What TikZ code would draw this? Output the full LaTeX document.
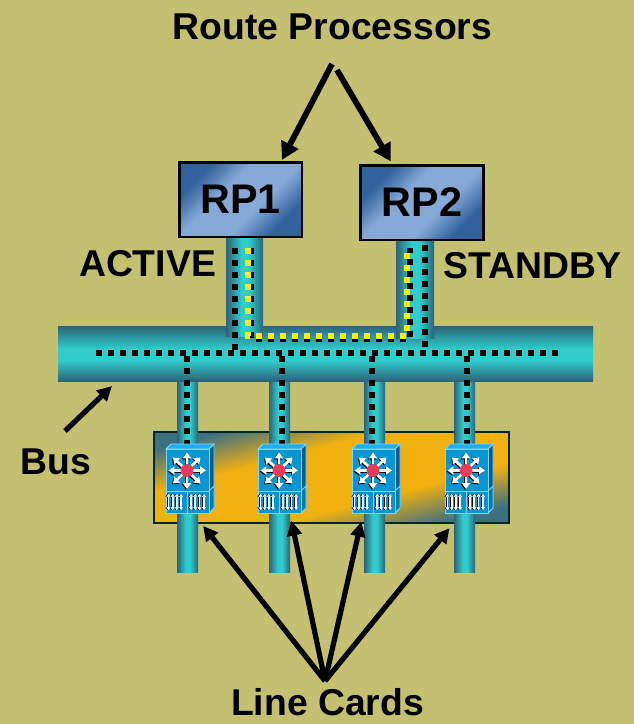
\documentclass[tikz,border=0pt]{standalone}
\usepackage{fontspec}
\setmainfont{Liberation Sans}
\usetikzlibrary{calc, arrows.meta}
\definecolor{slidebg}{RGB}{196,192,114}
\definecolor{pipedark}{RGB}{44,100,118}
\definecolor{pipelight}{RGB}{48,204,204}
\definecolor{rpdark}{RGB}{50,98,156}
\definecolor{rplight}{RGB}{134,170,216}
\definecolor{carddark}{RGB}{62,112,128}
\definecolor{cardorange}{RGB}{240,176,16}
\definecolor{iconblue}{RGB}{8,150,210}
\definecolor{icontop}{RGB}{30,175,240}
\definecolor{iconside}{RGB}{8,90,140}
\definecolor{iconedge}{RGB}{125,215,250}
\definecolor{iconred}{RGB}{232,60,90}
\pgfdeclarehorizontalshading{pipeshade}{100bp}{color(0bp)=(pipedark); color(25bp)=(pipedark); color(46bp)=(pipelight); color(56bp)=(pipelight); color(75bp)=(pipedark); color(100bp)=(pipedark)}
\pgfdeclareverticalshading{busshade}{100bp}{color(0bp)=(pipedark); color(25bp)=(pipedark); color(44bp)=(pipelight); color(54bp)=(pipelight); color(75bp)=(pipedark); color(100bp)=(pipedark)}
\pgfdeclareverticalshading{rpshade}{100bp}{color(0bp)=(rpdark); color(27bp)=(rpdark); color(41bp)=(rplight); color(59bp)=(rplight); color(73bp)=(rpdark); color(100bp)=(rpdark)}
\pgfdeclareverticalshading{trayshade}{100bp}{color(0bp)=(carddark); color(25bp)=(carddark); color(39bp)=(cardorange); color(61bp)=(cardorange); color(75bp)=(carddark); color(100bp)=(carddark)}
\newcommand{\starlines}[1]{%
    \draw[staredge,#1] (2.5,21.5)--(40,21.5);
    \draw[staredge,#1] (21,3.5)--(21,40);
    \draw[staredge,#1] (7,8.5)--(34.5,34.5);
    \draw[staredge,#1] (7,34.5)--(34.5,8.5);
}
\newcommand{\portlines}[1]{%
    \draw[portedge,#1] (2.5,45)--(2.5,61);
    \draw[portedge,#1] (6.7,45)--(6.7,61);
    \draw[portedge,#1] (10.8,45)--(10.8,61);
    \draw[portedge,#1] (15,45)--(15,61);
    \draw[portedge,#1] (25,45)--(25,61);
    \draw[portedge,#1] (29.2,45)--(29.2,61);
    \draw[portedge,#1] (33.5,45)--(33.5,61);
    \draw[portedge,#1] (38,45)--(38,61);
}
\tikzset{
    label/.style={font=\fontsize{28}{30}\selectfont\bfseries,inner sep=0pt},
    rpbox/.style={draw=black,line width=2pt,minimum width=92pt,minimum height=56pt,inner sep=0pt,
        font=\fontsize{31}{33}\selectfont\bfseries,shading=rpshade,shading angle=45},
    pipe/.style={shading=pipeshade},
    busbar/.style={shading=busshade},
    tray/.style={draw=black!70!teal,line width=2.2pt,shading=trayshade,shading angle=15},
    dots/.style={line width=4.5pt,dash pattern=on 4.5pt off 4.5pt},
    bigcallout/.style={line width=4.4pt,-{Triangle[length=13pt,width=14pt]}},
    callout/.style={line width=3.9pt,-{Triangle[length=11pt,width=11pt]}},
    staredge/.style={line width=2pt,{Triangle[length=4.4pt,width=6pt]}-{Triangle[length=4.4pt,width=6pt]}},
    portedge/.style={line width=1.2pt,{Triangle[length=2pt,width=3pt]}-{Triangle[length=2pt,width=3pt]}},
    pics/linecard/.style={code={
        \fill[iconside,draw=iconedge,line width=0.7pt] (43,0)--(48,-5)--(48,59)--(43,64)--cycle;
        \fill[iconblue!80!black,draw=iconedge,line width=0.7pt] (43,42)--(48,37)--(48,59)--(43,64)--cycle;
        \fill[icontop,draw=iconedge,line width=0.7pt] (0,0)--(5,-5)--(48,-5)--(43,0)--cycle;
        \node[fill=iconblue,draw=iconedge,line width=0.7pt,anchor=north west,minimum width=32.25pt,minimum height=48pt,inner sep=0pt] (-front) at (0,0) {};
        \draw[iconedge,line width=0.7pt] (0,42)--(43,42) (21,42)--(21,64);
        \begin{scope}[shift={(-1,1)}]
            \starlines{black}
        \end{scope}
        \starlines{white}
        \fill[iconred] (21,21.5) circle (6.5);
        \begin{scope}[shift={(-1,0)}]
            \portlines{black}
        \end{scope}
        \portlines{white}
    }},
}
\begin{document}
\begin{tikzpicture}[x=0.75pt,y=-0.75pt]
    \useasboundingbox (0,0) rectangle (634,724);
    \fill[slidebg] (0,0) rectangle (634,724);

    % line card tray and its four pipes
    \draw[tray] (154,432) rectangle (509,523);
    \fill[pipe] (177,378) rectangle (198,572);
    \fill[pipe] (269,378) rectangle (290,572);
    \fill[pipe] (364,378) rectangle (385,572);
    \fill[pipe] (454,378) rectangle (475,572);

    % bus and the two pipes up to the processors
    \fill[busbar] (58,326) rectangle (593,381);
    \fill[pipe] (226,238) rectangle (263,336);
    \fill[pipe] (396,240) rectangle (434,338);

    \node[rpbox] (rp1) at (240.5,199.5) {RP1};
    \node[rpbox] (rp2) at (422,202.5) {RP2};

    \draw[dots] (96,353)--(558,353);
    \draw[dots] (235,248)--(235,350);
    \draw[dots] (425,245)--(425,347);
    \draw[dots] (186.7,356)--(186.7,446);
    \draw[dots] (281.7,356)--(281.7,446);
    \draw[dots] (372,356)--(372,446);
    \draw[dots] (466.7,356)--(466.7,446);
    \draw[dots] (251,248)--(251,339)--(410,339)--(410,248);
    \draw[dots,yellow] (248,248)--(248,336)--(406.5,336)--(406.5,248);

    \pic (lc1) at (166,449) {linecard};
    \pic (lc2) at (258,449) {linecard};
    \pic (lc3) at (352,449) {linecard};
    \pic (lc4) at (445,449) {linecard};

    \node[label] (routes) at (332.5,27) {Route Processors};
    \node[label] (active) at (147.5,264) {ACTIVE};
    \node[label] (standby) at (532.5,266) {STANDBY};
    \node[label] (bus) at (55.5,462) {Bus};
    \node[label] (cards) at (327.5,702) {Line Cards};

    \coordinate (rpleft) at (332,64);
    \coordinate (rpright) at (337,70);
    \coordinate (cardfork) at (325,681);
    \coordinate (busfrom) at (65,431);
    \coordinate (busto) at (112,386);

    \draw[bigcallout] (rpleft)--($(rp1.north)+(41.5,-1)$);
    \draw[bigcallout] (rpright)--($(rp2.north)+(-31.3,-2.5)$);
    \draw[callout] (busfrom)--(busto);
    \draw[callout] (cardfork)--($(lc1-front.south)+(15.2,12)$);
    \draw[callout] (cardfork)--($(lc2-front.south)+(11.5,7)$);
    \draw[callout] (cardfork)--($(lc3-front.south)+(-12.8,8)$);
    \draw[callout] (cardfork)--($(lc4-front.south)+(-17.5,14.3)$);
\end{tikzpicture}
\end{document}
